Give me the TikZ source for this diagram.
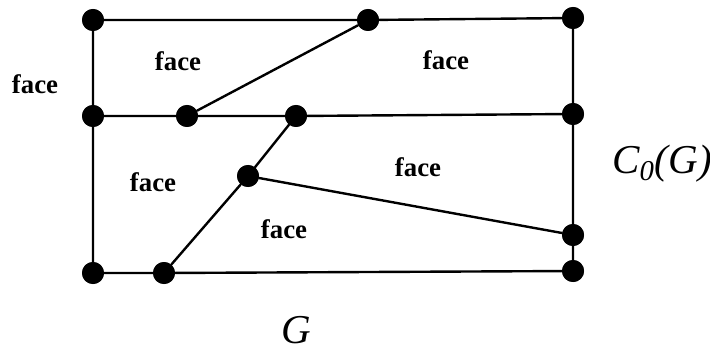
\documentclass[tikz,border=0pt]{standalone}
\usepackage{fontspec}
\setmainfont{Liberation Serif}
\usepackage{tikz}
\usetikzlibrary{positioning}
\definecolor{ink}{HTML}{000000}
\tikzset{
  every picture/.style={line cap=round, line join=round},
  vtx/.style={circle, fill=ink, draw=none, inner sep=0pt, minimum size=11pt},
  edge/.style={draw=ink, line width=1.2pt},
  facelbl/.style={font=\fontsize{13.4}{16}\selectfont\bfseries, text=ink},
  namelbl/.style={font=\fontsize{20.5}{24}\selectfont\itshape, text=ink},
}
\begin{document}
\begin{tikzpicture}[x=0.5pt, y=-0.5pt]
  \useasboundingbox (0,0) rectangle (710,352);
  % ---------------- vertices ----------------
  \node[vtx] (tl) at (93,20) {};
  \node[vtx] (tm) at (368,20) {};
  \node[vtx] (tr) at (573,18) {};
  \node[vtx] (ml) at (93,116) {};
  \node[vtx] (ma) at (187,116) {};
  \node[vtx] (mb) at (296,116) {};
  \node[vtx] (mr) at (573,114) {};
  \node[vtx] (c)  at (248,176) {};
  \node[vtx] (rl) at (573,235) {};
  \node[vtx] (bl) at (93,273) {};
  \node[vtx] (bm) at (164,273) {};
  \node[vtx] (br) at (573,271) {};
  % ---------------- edges ----------------
  \draw[edge] (tl) -- (tm) -- (tr) -- (mr) -- (rl) -- (br) -- (bm) -- (bl) -- (ml) -- (tl);
  \draw[edge] (ml) -- (ma) -- (mb) -- (mr);
  \draw[edge] (ma) -- (tm);
  \draw[edge] (mb) -- (c) -- (bm);
  \draw[edge] (c) -- (rl);
  % redraw the dots on top of the lines
  \foreach \v in {tl,tm,tr,ml,ma,mb,mr,c,rl,bl,bm,br}
    \fill[ink] (\v) circle (5.5pt);
  % ---------------- faces ----------------
  \node[facelbl] (fout) at (35,84) {face};
  \node[facelbl] (fa) at (178,61) {face};
  \node[facelbl] (fb) at (446,60) {face};
  \node[facelbl] (fc) at (153,182) {face};
  \node[facelbl] (fd) at (418,167) {face};
  \node[facelbl] (fe) at (284,229) {face};
  % ---------------- names ----------------
  \node[namelbl] (cname) at (662,164) {C\textsubscript{0}(G)};
  \node[namelbl] (gname) at (296,330) {G};
\end{tikzpicture}
\end{document}
